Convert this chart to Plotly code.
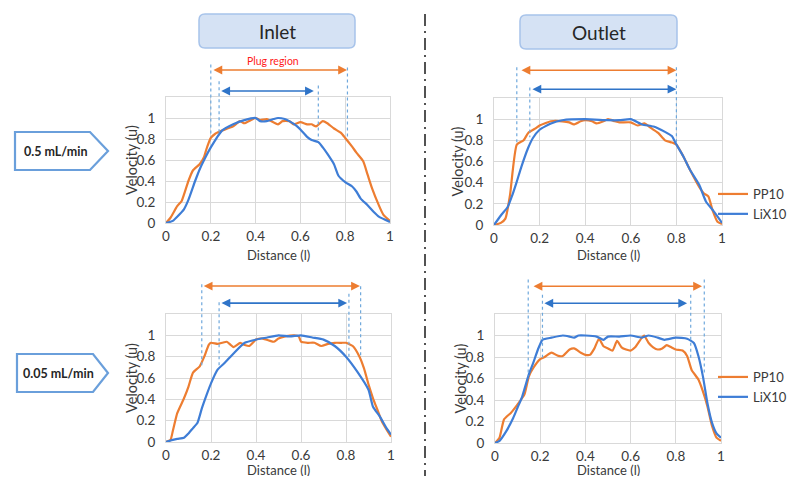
import plotly.graph_objects as go

# page has an 8px body margin; all geometry below is given in page pixels
OFF = 8
W, H = 795 - 2 * OFF, 484 - 2 * OFF
FONT = "Lato, 'Open Sans', sans-serif"
ORANGE = "#ED7D31"
BLUE = "#3E7DD6"
GUIDE = "#6FA8DC"

# ---------------- data ----------------
IN05_PP_X = [0, 0.02, 0.05, 0.07, 0.1, 0.12, 0.15, 0.17, 0.18, 0.2, 0.22, 0.25, 0.3, 0.33, 0.35, 0.38, 0.4,
             0.42, 0.45, 0.5, 0.52, 0.55, 0.57, 0.6, 0.63, 0.65, 0.67, 0.7, 0.72, 0.75, 0.78, 0.8, 0.83,
             0.85, 0.88, 0.9, 0.92, 0.95, 0.97, 1.0]
IN05_PP_Y = [0, 0.05, 0.16, 0.21, 0.4, 0.5, 0.56, 0.63, 0.7, 0.81, 0.85, 0.88, 0.92, 0.97, 0.95, 0.98, 1.0,
             0.98, 0.99, 0.94, 0.97, 0.97, 0.94, 0.96, 0.94, 0.94, 0.92, 0.97, 0.95, 0.9, 0.86, 0.81, 0.73,
             0.67, 0.59, 0.46, 0.33, 0.17, 0.08, 0.02]
IN05_LI_X = [0, 0.03, 0.05, 0.08, 0.1, 0.13, 0.15, 0.17, 0.2, 0.25, 0.3, 0.35, 0.4, 0.42, 0.45, 0.48, 0.5,
             0.53, 0.55, 0.58, 0.6, 0.63, 0.65, 0.68, 0.7, 0.72, 0.75, 0.77, 0.8, 0.83, 0.85, 0.87, 0.9,
             0.93, 0.95, 1.0]
IN05_LI_Y = [0, 0.02, 0.06, 0.13, 0.22, 0.4, 0.51, 0.6, 0.72, 0.88, 0.94, 0.98, 1.0, 0.97, 0.97, 0.99, 1.0,
             0.99, 0.97, 0.93, 0.89, 0.82, 0.79, 0.77, 0.72, 0.66, 0.56, 0.45, 0.39, 0.35, 0.3, 0.23, 0.17,
             0.1, 0.06, 0.01]

OUT05_PP_X = [0, 0.03, 0.05, 0.07, 0.1, 0.13, 0.15, 0.18, 0.2, 0.25, 0.3, 0.33, 0.35, 0.38, 0.4, 0.43, 0.45,
              0.48, 0.5, 0.53, 0.55, 0.6, 0.63, 0.66, 0.68, 0.72, 0.75, 0.78, 0.8, 0.83, 0.86, 0.9, 0.92,
              0.94, 0.96, 0.98, 1.0]
OUT05_PP_Y = [0, 0.02, 0.06, 0.28, 0.76, 0.8, 0.87, 0.91, 0.94, 0.98, 0.98, 0.97, 0.95, 0.98, 0.99, 0.98, 0.96,
              0.98, 1.0, 0.98, 0.97, 0.97, 0.94, 0.96, 0.93, 0.87, 0.8, 0.78, 0.76, 0.65, 0.52, 0.36, 0.3,
              0.27, 0.13, 0.03, 0.01]
OUT05_LI_X = [0, 0.03, 0.06, 0.08, 0.1, 0.12, 0.15, 0.17, 0.2, 0.25, 0.3, 0.4, 0.5, 0.55, 0.6, 0.65, 0.7,
              0.75, 0.78, 0.8, 0.83, 0.86, 0.9, 0.93, 0.96, 1.0]
OUT05_LI_Y = [0, 0.09, 0.17, 0.28, 0.41, 0.55, 0.73, 0.82, 0.9, 0.96, 0.99, 1.0, 0.99, 0.99, 1.0, 0.95, 0.93,
              0.88, 0.84, 0.76, 0.65, 0.52, 0.38, 0.22, 0.14, 0.02]

IN005_PP_X = [0, 0.02, 0.03, 0.05, 0.08, 0.1, 0.12, 0.15, 0.17, 0.19, 0.2, 0.23, 0.25, 0.27, 0.3, 0.33, 0.35,
              0.37, 0.4, 0.43, 0.46, 0.48, 0.5, 0.53, 0.57, 0.59, 0.6, 0.63, 0.66, 0.69, 0.72, 0.75, 0.78,
              0.8, 0.83, 0.86, 0.88, 0.9, 0.92, 0.94, 0.96, 1.0]
IN005_PP_Y = [0, 0.02, 0.1, 0.27, 0.41, 0.52, 0.65, 0.71, 0.8, 0.91, 0.93, 0.92, 0.93, 0.94, 0.89, 0.93, 0.91,
              0.9, 0.96, 0.97, 0.95, 0.94, 0.97, 0.99, 1.0, 0.99, 0.94, 0.93, 0.93, 0.9, 0.92, 0.93, 0.93,
              0.93, 0.9, 0.8, 0.69, 0.54, 0.41, 0.3, 0.19, 0.05]
IN005_LI_X = [0, 0.03, 0.05, 0.08, 0.1, 0.12, 0.14, 0.16, 0.18, 0.2, 0.23, 0.26, 0.3, 0.35, 0.4, 0.45, 0.5,
              0.55, 0.6, 0.65, 0.7, 0.75, 0.8, 0.85, 0.9, 0.92, 0.95, 0.98, 1.0]
IN005_LI_Y = [0, 0.02, 0.03, 0.04, 0.08, 0.13, 0.18, 0.32, 0.44, 0.55, 0.68, 0.74, 0.83, 0.93, 0.96, 0.98, 1.0,
              0.99, 1.0, 0.98, 0.96, 0.9, 0.8, 0.66, 0.49, 0.33, 0.24, 0.13, 0.07]

OUT005_PP_X = [0, 0.02, 0.04, 0.07, 0.1, 0.13, 0.15, 0.17, 0.2, 0.22, 0.25, 0.28, 0.3, 0.33, 0.35, 0.38, 0.4,
               0.42, 0.44, 0.46, 0.48, 0.5, 0.52, 0.54, 0.56, 0.58, 0.6, 0.62, 0.65, 0.66, 0.68, 0.7, 0.72,
               0.74, 0.76, 0.78, 0.8, 0.83, 0.85, 0.87, 0.9, 0.92, 0.94, 0.96, 0.98, 1.0]
OUT005_PP_Y = [0, 0.05, 0.22, 0.28, 0.36, 0.45, 0.62, 0.7, 0.78, 0.8, 0.84, 0.81, 0.81, 0.87, 0.88, 0.84, 0.82,
               0.82, 0.88, 0.97, 0.9, 0.88, 0.86, 0.95, 0.89, 0.87, 0.86, 0.89, 0.98, 1.0, 0.93, 0.89, 0.87,
               0.88, 0.91, 0.89, 0.87, 0.86, 0.81, 0.68, 0.59, 0.48, 0.34, 0.16, 0.05, 0.02]
OUT005_LI_X = [0, 0.02, 0.05, 0.08, 0.1, 0.12, 0.15, 0.17, 0.19, 0.21, 0.25, 0.3, 0.33, 0.35, 0.37, 0.4, 0.45,
               0.48, 0.5, 0.55, 0.6, 0.65, 0.68, 0.72, 0.75, 0.8, 0.85, 0.88, 0.9, 0.92, 0.94, 0.96, 0.98, 1.0]
OUT005_LI_Y = [0, 0.02, 0.11, 0.23, 0.33, 0.43, 0.64, 0.75, 0.87, 0.96, 0.98, 1.0, 0.99, 0.98, 1.0, 1.0, 0.99,
               0.96, 0.99, 0.99, 1.0, 0.98, 1.0, 0.98, 0.96, 0.98, 0.97, 0.93, 0.81, 0.62, 0.37, 0.19, 0.09, 0.05]

SERIES_NAMES = ["PP10", "LiX10"]
X_TICKS = [0, 0.2, 0.4, 0.6, 0.8, 1.0]
X_TICKTEXT = ["0", "0.2", "0.4", "0.6", "0.8", "1"]
Y_TICKS = [0, 0.2, 0.4, 0.6, 0.8, 1.0]
Y_TICKTEXT = ["0", "0.2", "0.4", "0.6", "0.8", "1"]
X_TITLE = "Distance (l)"
Y_TITLE = "Velocity (u)"
PANEL_HEADERS = ["Inlet", "Outlet"]
FLOW_RATES = ["0.5 mL/min", "0.05 mL/min"]

# plug-region spans (distance units) and guide lines: (x, top, curve value)
PLUG_PP = [(0.205, 0.808), (0.114, 0.80), (0.161, 0.862), (0.164, 0.916)]
PLUG_LI = [(0.24, 0.66), (0.162, 0.80), (0.24, 0.805), (0.212, 0.85)]
PLUG_GUIDES = [
    [(0.2, 1.51, 0.82), (0.237, 1.35, 0.85), (0.68, 1.31, 0.79), (0.81, 1.48, 0.80)],
    [(0.1, 1.49, 0.76), (0.157, 1.30, 0.83), (0.8, 1.49, 0.76)],
    [(0.159, 1.48, 0.72), (0.236, 1.31, 0.69), (0.813, 1.39, 0.80), (0.865, 1.46, 0.79)],
    [(0.147, 1.52, 0.62), (0.21, 1.38, 0.79), (0.866, 1.38, 0.79), (0.926, 1.52, 0.65)],
]

PANELS = [
    (IN05_PP_X, IN05_PP_Y, IN05_LI_X, IN05_LI_Y),
    (OUT05_PP_X, OUT05_PP_Y, OUT05_LI_X, OUT05_LI_Y),
    (IN005_PP_X, IN005_PP_Y, IN005_LI_X, IN005_LI_Y),
    (OUT005_PP_X, OUT005_PP_Y, OUT005_LI_X, OUT005_LI_Y),
]

# ---------------- layout geometry (page pixels) ----------------
FRAMES = [(166, 390, 97, 223), (494, 722, 98, 225), (166, 391, 314, 442), (495, 721, 314, 443)]
YTITLE_X = [132, 457, 131, 460]
XTITLE_Y = [255, 255, 470, 470]
YMAX = 1.2
ARROW_Y_PP = [1.457, 1.462, 1.462, 1.458]
ARROW_Y_LI = [1.257, 1.283, 1.302, 1.30]


def pp(x, y):
    return (x - OFF) / W, 1 - (y - OFF) / H


def d2p(i, x, y):
    l, r, t, b = FRAMES[i]
    return pp(l + x * (r - l), b - y / YMAX * (b - t))


fig = go.Figure()
legend_for = {1: "legend", 3: "legend2"}

for i, (ppx, ppy, lix, liy) in enumerate(PANELS):
    suffix = "" if i == 0 else str(i + 1)
    for name, xs, ys, col in ((SERIES_NAMES[0], ppx, ppy, ORANGE), (SERIES_NAMES[1], lix, liy, BLUE)):
        fig.add_trace(go.Scatter(
            x=xs, y=ys, mode="lines", name=name,
            line=dict(color=col, width=2.2, shape="spline", smoothing=0.5),
            xaxis="x" + suffix, yaxis="y" + suffix,
            showlegend=i in legend_for, legend=legend_for.get(i, "legend"),
            hoverinfo="skip"))

TXT = "#3a3a3a"
layout_axes = {}
annotations = []
for i, (l, r, t, b) in enumerate(FRAMES):
    suffix = "" if i == 0 else str(i + 1)
    xl, yb = pp(l, b)
    xr, yt = pp(r, t)
    layout_axes["xaxis" + suffix] = dict(
        domain=[xl, xr], range=[0, 1], anchor="y" + suffix,
        tickvals=X_TICKS, ticktext=X_TICKTEXT, showgrid=True, gridcolor="#D9D9D9",
        zeroline=False, showline=True, mirror=True, linecolor="#D9D9D9", linewidth=1,
        ticks="", ticklabelstandoff=1,
        tickfont=dict(family=FONT, size=13.5, color=TXT))
    layout_axes["yaxis" + suffix] = dict(
        domain=[yb, yt], range=[0, YMAX], anchor="x" + suffix,
        tickvals=Y_TICKS, ticktext=Y_TICKTEXT, showgrid=True, gridcolor="#D9D9D9",
        zeroline=False, showline=True, mirror=True, linecolor="#D9D9D9", linewidth=1,
        ticks="", ticklabelstandoff=7,
        tickfont=dict(family=FONT, size=13.5, color=TXT))
    # axis titles placed as the reference shows them
    ax_, ay_ = pp(YTITLE_X[i], (t + b) / 2)
    annotations.append(dict(x=ax_, y=ay_, xref="paper", yref="paper", text=Y_TITLE, textangle=-90,
                            showarrow=False, xanchor="center", yanchor="middle",
                            font=dict(family=FONT, size=14.5, color=TXT)))
    bx_, by_ = pp((l + r) / 2, XTITLE_Y[i])
    annotations.append(dict(x=bx_, y=by_, xref="paper", yref="paper", text=X_TITLE,
                            showarrow=False, xanchor="center", yanchor="middle", borderpad=0,
                            font=dict(family=FONT, size=13, color=TXT)))

shapes = []

# plug-region arrows and guides
for i in range(4):
    l, r, t, b = FRAMES[i]
    for (x0, x1), yv, col in ((PLUG_PP[i], ARROW_Y_PP[i], ORANGE), (PLUG_LI[i], ARROW_Y_LI[i], "#2F74C8")):
        hx, hy = d2p(i, x1, yv)
        annotations.append(dict(
            x=hx, y=hy, xref="paper", yref="paper", ax=-(x1 - x0) * (r - l), ay=0,
            axref="pixel", ayref="pixel", text="", showarrow=True, arrowhead=2,
            arrowside="end+start", arrowsize=1.1, arrowwidth=1.6, arrowcolor=col,
            standoff=0, startstandoff=0))
    for gx, gtop, gbot in PLUG_GUIDES[i]:
        xa, ya = d2p(i, gx, gtop)
        xb, yb = d2p(i, gx, gbot)
        shapes.append(dict(type="line", xref="paper", yref="paper", x0=xa, y0=ya, x1=xb, y1=yb,
                           line=dict(color=GUIDE, width=1.2, dash="dot")))

tx, ty = d2p(0, 0.478, 1.54)
annotations.append(dict(x=tx, y=ty, xref="paper", yref="paper", text="Plug region", showarrow=False,
                        xanchor="center", yanchor="middle",
                        font=dict(family=FONT, size=10.5, color="#FF1A1A")))


def rrect(x0, y0, x1, y1, r):
    def P(x, y):
        a, b_ = pp(x, y)
        return f"{a:.5f},{b_:.5f}"
    return (f"M{P(x0 + r, y0)} L{P(x1 - r, y0)} Q{P(x1, y0)} {P(x1, y0 + r)} "
            f"L{P(x1, y1 - r)} Q{P(x1, y1)} {P(x1 - r, y1)} L{P(x0 + r, y1)} "
            f"Q{P(x0, y1)} {P(x0, y1 - r)} L{P(x0, y0 + r)} Q{P(x0, y0)} {P(x0 + r, y0)} Z")


# header boxes
for (x0, y0, x1, y1), label in zip([(199, 14, 355, 48), (520, 15, 677, 49)], PANEL_HEADERS):
    shapes.append(dict(type="path", xref="paper", yref="paper", path=rrect(x0, y0, x1, y1, 6),
                       fillcolor="#D5E2F4", line=dict(color="#A7C3EA", width=1.5), layer="below"))
    cx, cy = pp((x0 + x1) / 2, (y0 + y1) / 2)
    annotations.append(dict(x=cx, y=cy, xref="paper", yref="paper", text=label, showarrow=False,
                            xanchor="center", yanchor="middle",
                            font=dict(family=FONT, size=19, color="#262626")))


def pent(x0, y0, xs, xt, y1):
    pts = [(x0, y0), (xs, y0), (xt, (y0 + y1) / 2), (xs, y1), (x0, y1)]
    return "M" + " L".join("{:.5f},{:.5f}".format(*pp(x, y)) for x, y in pts) + " Z"


# flow-rate pentagons
for (x0, y0, xs, xt, y1), label in zip([(15, 132, 90, 108, 170), (17, 354, 93, 108, 392)], FLOW_RATES):
    shapes.append(dict(type="path", xref="paper", yref="paper", path=pent(x0, y0, xs, xt, y1),
                       fillcolor="white", line=dict(color="#6A9FDB", width=2.2)))
    cx, cy = pp((x0 + xs) / 2 + 3, (y0 + y1) / 2)
    annotations.append(dict(x=cx, y=cy, xref="paper", yref="paper", text=f"<b>{label}</b>",
                            showarrow=False, xanchor="center", yanchor="middle",
                            font=dict(family=FONT, size=12.5, color="#262626")))

# central dash-dot divider
xa, ya = pp(425, 14)
xb, yb = pp(425, 484)
shapes.append(dict(type="line", xref="paper", yref="paper", x0=xa, y0=ya, x1=xb, y1=yb,
                   line=dict(color="#1a1a1a", width=1.5, dash="12px,5px,2px,5px")))

lx1, ly1 = pp(713, 179)
lx2, ly2 = pp(713, 362)

fig.update_layout(
    width=W, height=H, margin=dict(l=0, r=0, t=0, b=0, autoexpand=False),
    paper_bgcolor="white", plot_bgcolor="white",
    font=dict(family=FONT, color=TXT),
    shapes=shapes, annotations=annotations,
    legend=dict(x=lx1, y=ly1, xanchor="left", yanchor="top", bgcolor="rgba(0,0,0,0)",
                font=dict(family=FONT, size=13, color=TXT), itemwidth=30, tracegroupgap=0),
    legend2=dict(x=lx2, y=ly2, xanchor="left", yanchor="top", bgcolor="rgba(0,0,0,0)",
                 font=dict(family=FONT, size=13, color=TXT), itemwidth=30, tracegroupgap=0),
    **layout_axes,
)

fig.write_html("out.html")
